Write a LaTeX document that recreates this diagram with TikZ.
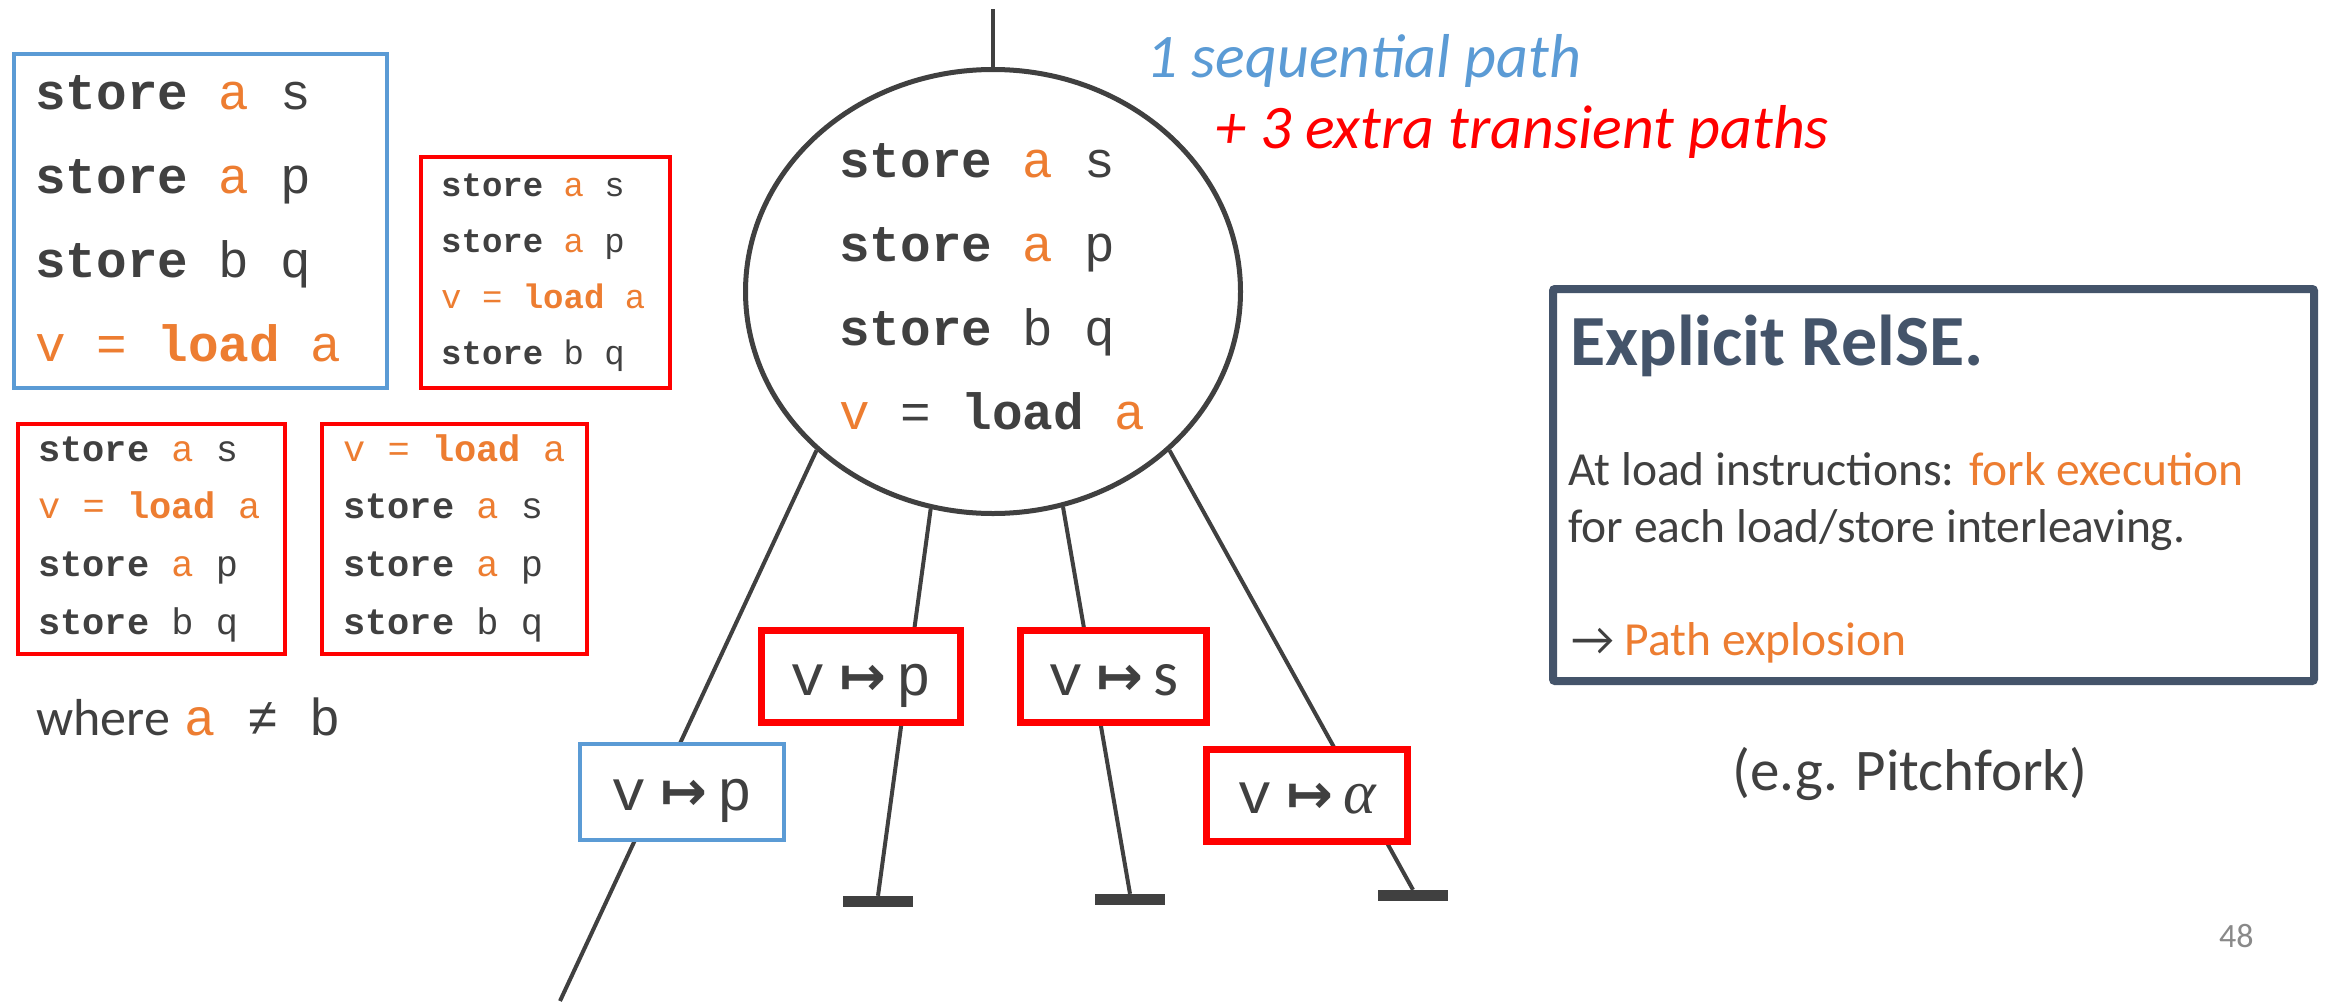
\documentclass[tikz,border=0pt]{standalone}
\usepackage{fontspec}
\setmainfont{Carlito}
\newfontfamily\codefont{Liberation Mono}
\newfontfamily\symfont{DejaVu Sans}
\newfontfamily\greekfont{Liberation Serif}
\usetikzlibrary{backgrounds,shapes.geometric}

\definecolor{ink}{HTML}{404040}
\definecolor{accent}{HTML}{ED7D31}
\definecolor{seqblue}{HTML}{5B9BD5}
\definecolor{specred}{HTML}{FF0000}
\definecolor{slate}{HTML}{44546A}
\definecolor{pagegray}{HTML}{898989}

% code helpers
\newcommand\kw[1]{\textbf{#1}}
\newcommand\ov[1]{\textcolor{accent}{#1}}
\newcommand\cl[1]{\hbox{#1}}
\newcommand\codelines[2]{\vtop{\baselineskip=#1\lineskiplimit=-1000pt\lineskip=0pt #2}}
\newcommand\mto{\hspace{14pt}{\symfont\bfseries\fontsize{56}{60}\selectfont ↦}\hspace{10pt}}

\tikzset{
  codebox/.style={draw=#1, line width=4, fill=white, inner sep=0},
  code/.style={anchor=base west, inner sep=0, text=ink},
  valbox/.style={draw=#1, line width=7, fill=white, inner sep=0,
    minimum height=92, text=ink, text height=50, text depth=13,
    font=\codefont\fontsize{58}{60}\selectfont},
  branch/.style={draw=ink, line width=4},
  stopbar/.style={rectangle, fill=ink, minimum width=70, minimum height=11, inner sep=0},
  label/.style={anchor=base west, inner sep=0},
}

\begin{document}
\begin{tikzpicture}[x=1pt, y=-1pt]
\path[use as bounding box] (0,0) rectangle (2328,1001);

% instruction orderings
\node[codebox=seqblue, minimum width=373, minimum height=334] (seqbox) at (200.5,221) {};
\node[code, font=\codefont\fontsize{51}{84}\selectfont] (seqcode) at (35,109)
  {\codelines{84pt}{\cl{\kw{store} \ov{a} s}\cl{\kw{store} \ov{a} p}\cl{\kw{store} b q}\cl{\ov{v = \kw{load} a}}}};

\node[codebox=specred, minimum width=249, minimum height=231] (specA) at (545.5,272.5) {};
\node[code, font=\codefont\fontsize{34}{56}\selectfont] (specAcode) at (441,196.5)
  {\codelines{56pt}{\cl{\kw{store} \ov{a} s}\cl{\kw{store} \ov{a} p}\cl{\ov{v = \kw{load} a}}\cl{\kw{store} b q}}};

\node[codebox=specred, minimum width=267, minimum height=230] (specB) at (151.5,539) {};
\node[code, font=\codefont\fontsize{37}{58}\selectfont] (specBcode) at (38,461)
  {\codelines{57.7pt}{\cl{\kw{store} \ov{a} s}\cl{\ov{v = \kw{load} a}}\cl{\kw{store} \ov{a} p}\cl{\kw{store} b q}}};

\node[codebox=specred, minimum width=265, minimum height=230] (specC) at (454.5,539) {};
\node[code, font=\codefont\fontsize{37}{58}\selectfont] (specCcode) at (343,461)
  {\codelines{57.7pt}{\cl{\ov{v = \kw{load} a}}\cl{\kw{store} \ov{a} s}\cl{\kw{store} \ov{a} p}\cl{\kw{store} b q}}};

\node[label, text=ink] (cond) at (36,735)
  {\fontsize{52}{60}\selectfont where\hspace{15pt}{\codefont\fontsize{52}{60}\selectfont\ov{a} ≠ b}};

% execution tree
\node[ellipse, draw=ink, line width=5, fill=white, minimum width=495, minimum height=444, inner sep=0] (ell) at (993,291.5) {};
\node[code, font=\codefont\fontsize{51}{84}\selectfont] (ellcode) at (839,177)
  {\codelines{84.3pt}{\cl{\kw{store} \ov{a} s}\cl{\kw{store} \ov{a} p}\cl{\kw{store} b q}\cl{\ov{v} = \kw{load} \ov{a}}}};

\coordinate (root) at (993,9);
\coordinate (seqend) at (560,1001);
\node[stopbar] (end2) at (878,901.5) {};
\node[stopbar] (end3) at (1130,899.5) {};
\node[stopbar] (end4) at (1413,895.5) {};

\node[valbox=seqblue, line width=4.5, minimum width=204, minimum height=96] (vseq) at (682,792) {v\mto p};
\node[valbox=specred, minimum width=199] (vp) at (861,676.5) {v\mto p};
\node[valbox=specred, minimum width=186] (vs) at (1113.5,676.5) {v\mto{\fontsize{64}{60}\selectfont\rmfamily s}};
\node[valbox=specred, minimum width=201] (va) at (1307,795) {v\mto{\greekfont\itshape\fontsize{62}{60}\selectfont α}};

\begin{pgfonlayer}{background}
  \fill[white] (0,0) rectangle (2328,1001);
  \draw[branch] (ell.north) -- (root);
  \draw[branch] (ell.222) -- (seqend);
  \draw[branch] (ell.254) -- (end2.north);
  \draw[branch] (ell.288) -- (end3.north);
  \draw[branch] (ell.318) -- (end4.north);
\end{pgfonlayer}

% path counts
\node[label, text=seqblue, font=\itshape\fontsize{62}{70}\selectfont] (seqcount) at (1146,77) {1 sequential path};
\node[label, text=specred, font=\itshape\fontsize{62}{70}\selectfont] (speccount) at (1215,148) {+ 3 extra transient paths};

% summary box
\node[draw=slate, line width=8, rounded corners=2, minimum width=761, minimum height=392, inner sep=0] (relse) at (1933.5,485) {};
\node[label, text=slate, font=\bfseries\fontsize{72}{80}\selectfont] (title) at (1570,365) {Explicit RelSE.};
\node[label, text=ink, font=\fontsize{47.5}{57}\selectfont] (line1) at (1568,485) {At load instructions: \textcolor{accent}{fork execution}};
\node[label, text=ink, font=\fontsize{47.5}{57}\selectfont] (line2) at (1568,542) {for each load/store interleaving.};
\node[label, text=ink, font=\fontsize{47.5}{57}\selectfont] (line3) at (1571,655) {→ \textcolor{accent}{Path explosion}};
\node[anchor=base, inner sep=0, text=ink, font=\fontsize{59}{66}\selectfont] (example) at (1910,790) {(e.g. Pitchfork)};

\node[label, text=pagegray, font=\fontsize{34}{40}\selectfont] (pagenum) at (2219,947) {48};
\end{tikzpicture}
\end{document}
